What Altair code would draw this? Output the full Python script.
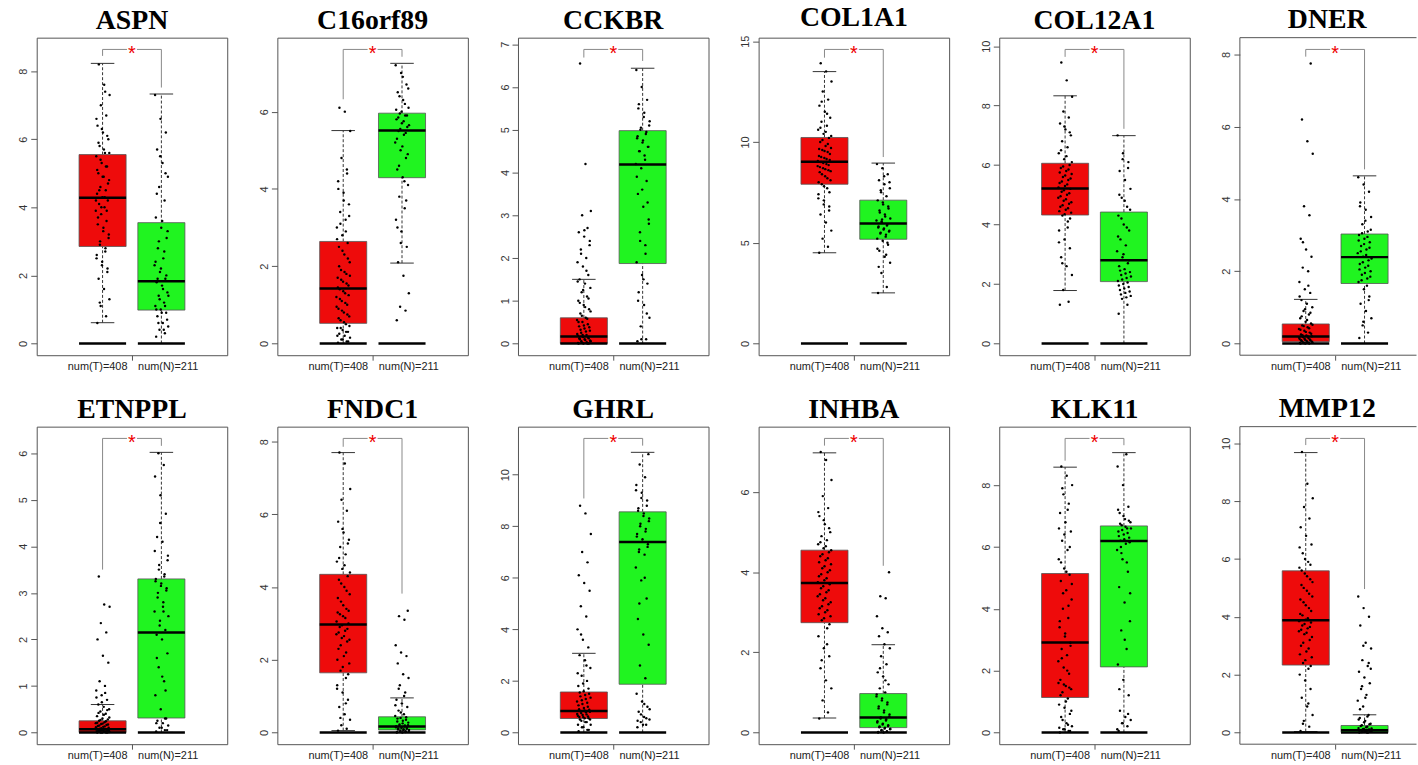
import altair as alt
import pandas as pd

GENES = ["ASPN", "C16orf89", "CCKBR", "COL1A1", "COL12A1", "DNER",
         "ETNPPL", "FNDC1", "GHRL", "INHBA", "KLK11", "MMP12"]
GROUPS = ["T", "N"]
GROUP_LABELS = ["num(T)=408", "num(N)=211"]
BOX_COLORS = ["#EE0B0B", "#20F420"]

# box statistics (lower whisker, Q1, median, Q3, upper whisker)
T_LO  = [0.61, 0.00, 0.00, 4.50, 1.78, 0.00, 0.00, 0.05, 0.00, 0.36, 0.00, 0.03]
T_Q1  = [2.85, 0.52, 0.00, 7.90, 4.32, 0.05, 0.00, 1.64, 0.54, 2.74, 1.13, 2.33]
T_MED = [4.28, 1.42, 0.16, 9.02, 5.21, 0.19, 0.07, 2.97, 0.83, 3.73, 2.91, 3.88]
T_Q3  = [5.55, 2.64, 0.60, 10.22, 6.06, 0.54, 0.25, 4.35, 1.57, 4.55, 5.14, 5.59]
T_HI  = [8.23, 5.51, 1.50, 13.49, 8.33, 1.22, 0.60, 7.70, 3.07, 6.98, 8.58, 9.68]
N_LO  = [0.00, 2.08, 0.00, 2.51, 0.00, 0.00, 0.00, 0.00, 0.00, 0.00, 0.00, 0.00]
N_Q1  = [0.98, 4.29, 1.87, 5.17, 2.08, 1.66, 0.31, 0.07, 1.87, 0.12, 2.12, 0.00]
N_MED = [1.83, 5.51, 4.19, 5.95, 2.80, 2.39, 2.15, 0.16, 7.39, 0.37, 6.19, 0.08]
N_Q3  = [3.55, 5.96, 4.98, 7.11, 4.42, 3.03, 3.30, 0.43, 8.56, 0.97, 6.68, 0.24]
N_HI  = [7.33, 7.25, 6.44, 8.95, 6.99, 4.64, 6.02, 0.95, 10.87, 2.19, 9.05, 0.61]

# significance bracket (top, left foot, right foot)
BR_TOP   = [8.64, 7.61, 6.88, 14.59, 9.89, 8.14, 6.32, 8.09, 11.41, 7.34, 9.51, 10.17]
BR_LEFT  = [8.45, 6.32, 6.69, 14.18, 9.64, 7.94, 3.50, 7.86, 9.08, 7.16, 8.79, 9.94]
BR_RIGHT = [7.52, 7.42, 6.61, 9.25, 7.22, 4.82, 6.16, 3.82, 11.13, 4.16, 9.29, 4.96]

Y_TICKS = [[0, 2, 4, 6, 8], [0, 2, 4, 6], [0, 1, 2, 3, 4, 5, 6, 7], [0, 5, 10, 15],
           [0, 2, 4, 6, 8, 10], [0, 2, 4, 6, 8], [0, 1, 2, 3, 4, 5, 6], [0, 2, 4, 6, 8],
           [0, 2, 4, 6, 8, 10], [0, 2, 4, 6], [0, 2, 4, 6, 8], [0, 2, 4, 6, 8, 10]]

# estimated sample points (a readable subset of the jittered dots)
ASPN_T = [0.6, 0.8, 1.1, 1.3, 1.6, 1.9, 2.1, 2.3, 2.5, 2.7, 2.9, 3.1, 3.3, 3.5, 3.6, 3.8, 3.9, 4.0, 4.1, 4.2,
          4.3, 4.4, 4.5, 4.6, 4.8, 4.9, 5.0, 5.2, 5.3, 5.5, 5.6, 5.8, 6.0, 6.2, 6.4, 6.7, 7.0, 7.3, 7.6, 8.2,
          2.2, 2.4, 2.6, 2.8, 3.0, 3.2, 3.4, 3.7, 3.9, 4.0, 4.2, 4.3, 4.5, 4.7, 4.9, 5.1, 5.2, 5.4, 5.6, 5.7,
          5.9, 6.1, 6.3, 6.6, 7.4, 1.2]
ASPN_N = [0.2, 0.3, 0.4, 0.5, 0.6, 0.8, 0.9, 1.0, 1.1, 1.2, 1.4, 1.5, 1.7, 1.8, 1.9, 2.1, 2.3, 2.5, 2.8, 3.1,
          3.4, 3.7, 4.2, 4.6, 4.9, 5.3, 5.7, 6.2, 6.6, 7.3,
          0.4, 0.6, 0.7, 0.9, 1.0, 1.1, 1.3, 1.4, 1.6, 1.9, 2.0, 2.2, 2.4, 2.7, 3.0, 3.3, 3.6, 4.4, 5.0, 5.5]
C16_T = [0.02, 0.05, 0.1, 0.15, 0.2, 0.25, 0.3, 0.35, 0.4, 0.5, 0.6, 0.7, 0.8, 0.9, 1.0, 1.1, 1.2, 1.3, 1.4,
         1.5, 1.6, 1.7, 1.8, 1.9, 2.1, 2.3, 2.5, 2.6, 2.8, 3.0, 3.2, 3.4, 3.6, 3.9, 4.2, 4.5, 4.8, 5.5, 6.0, 6.1,
         0.05, 0.1, 0.2, 0.3, 0.4, 0.45, 0.55, 0.65, 0.75, 0.85, 0.95, 1.05, 1.15, 1.25, 1.35, 1.45, 1.55,
         1.65, 1.75, 1.85, 2.0, 2.2, 2.4, 2.7, 2.9, 3.1, 3.3, 3.7, 4.0, 4.4]
C16_N = [0.6, 0.85, 0.95, 1.3, 1.75, 2.1, 2.5, 2.9, 3.2, 3.5, 3.8, 4.1, 4.3, 4.5, 4.8, 5.0, 5.2, 5.4, 5.5,
         5.6, 5.7, 5.8, 5.9, 5.95, 6.1, 6.3, 6.5, 6.7, 7.0, 7.2,
         4.2, 4.6, 4.9, 5.1, 5.3, 5.45, 5.55, 5.65, 5.75, 5.85, 5.9, 6.0, 6.05, 6.2, 6.4, 6.6, 6.9, 3.0, 3.7, 2.6]
CCKBR_T = [0.0, 0.0, 0.02, 0.05, 0.08, 0.1, 0.12, 0.15, 0.18, 0.2, 0.25, 0.3, 0.35, 0.4, 0.45, 0.5, 0.55, 0.6,
           0.7, 0.8, 0.9, 1.0, 1.1, 1.2, 1.3, 1.4, 1.5, 1.6, 1.8, 1.9, 2.0, 2.2, 2.3, 2.5, 2.6, 2.7, 3.0, 3.1,
           4.2, 6.55,
           0.0, 0.0, 0.01, 0.03, 0.05, 0.07, 0.1, 0.12, 0.15, 0.2, 0.22, 0.28, 0.32, 0.38, 0.42, 0.5, 0.58,
           0.65, 0.75, 0.85, 0.95, 1.05, 1.25, 1.45, 1.7, 2.1, 2.4, 2.65]
CCKBR_N = [0.05, 0.1, 0.4, 0.6, 0.9, 1.2, 1.4, 1.6, 1.9, 2.3, 2.6, 2.9, 3.2, 3.5, 3.8, 4.1, 4.2, 4.4, 4.5,
           4.6, 4.7, 4.8, 4.9, 5.0, 5.1, 5.3, 5.5, 5.7, 6.0, 6.4,
           4.3, 4.5, 4.6, 4.75, 4.85, 4.95, 5.05, 5.2, 5.4, 5.6, 3.3, 3.6, 3.9, 2.1, 2.4, 2.8, 1.5, 1.0, 0.7, 0.1]
COL1A1_T = [4.5, 4.8, 5.2, 5.6, 6.0, 6.4, 6.8, 7.1, 7.4, 7.7, 7.9, 8.1, 8.3, 8.5, 8.6, 8.7, 8.8, 8.9, 9.0,
            9.1, 9.2, 9.3, 9.5, 9.6, 9.7, 9.8, 10.0, 10.2, 10.4, 10.6, 10.8, 11.0, 11.2, 11.5, 11.8, 12.1,
            12.5, 13.0, 13.5, 13.9,
            7.5, 7.8, 8.0, 8.2, 8.4, 8.55, 8.65, 8.75, 8.85, 8.95, 9.05, 9.15, 9.25, 9.4, 9.55, 9.65, 9.9,
            10.1, 10.3, 10.5, 10.7, 6.6, 6.9, 7.2, 11.4, 12.0]
COL1A1_N = [2.5, 2.8, 3.5, 4.0, 4.3, 4.6, 4.9, 5.1, 5.2, 5.4, 5.5, 5.6, 5.7, 5.8, 5.9, 6.0, 6.1, 6.3, 6.5,
            6.7, 6.9, 7.1, 7.3, 7.5, 7.7, 7.9, 8.1, 8.4, 8.7, 8.9,
            5.3, 5.45, 5.55, 5.65, 5.75, 5.85, 6.05, 6.2, 6.4, 6.6, 6.8, 7.0, 4.7, 4.4, 7.6, 8.0, 8.3, 3.8,
            5.0, 6.15]
COL12A1_T = [1.3, 1.4, 1.8, 2.3, 2.6, 2.9, 3.2, 3.5, 3.8, 4.1, 4.3, 4.4, 4.5, 4.6, 4.7, 4.8, 4.9, 5.0, 5.1,
             5.2, 5.3, 5.4, 5.5, 5.6, 5.7, 5.8, 5.9, 6.0, 6.2, 6.4, 6.6, 6.8, 7.0, 7.2, 7.4, 7.6, 7.8, 8.3,
             8.85, 9.45,
             4.2, 4.35, 4.45, 4.55, 4.65, 4.75, 4.85, 4.95, 5.05, 5.15, 5.25, 5.35, 5.45, 5.55, 5.65, 5.75,
             5.85, 5.95, 6.1, 6.3, 6.5, 7.1, 7.3, 3.4, 3.9, 2.7]
COL12A1_N = [1.0, 1.3, 1.5, 1.6, 1.7, 1.8, 1.9, 2.0, 2.1, 2.2, 2.3, 2.4, 2.5, 2.6, 2.7, 2.9, 3.1, 3.3, 3.5,
             3.8, 4.0, 4.3, 4.6, 4.9, 5.2, 5.5, 5.8, 6.1, 6.4, 7.0,
             1.55, 1.65, 1.75, 1.85, 1.95, 2.05, 2.15, 2.25, 2.35, 2.45, 2.8, 3.0, 3.6, 3.9, 4.2, 4.5, 4.8,
             5.0, 5.9, 6.2]
DNER_T = [0.0, 0.0, 0.01, 0.02, 0.04, 0.06, 0.08, 0.1, 0.12, 0.15, 0.18, 0.2, 0.22, 0.25, 0.3, 0.35, 0.4,
          0.45, 0.5, 0.55, 0.6, 0.7, 0.8, 0.9, 1.0, 1.1, 1.2, 1.4, 1.5, 1.7, 2.0, 2.1, 2.4, 2.6, 2.9, 3.55,
          3.8, 5.25, 5.6, 6.2, 7.75,
          0.0, 0.01, 0.02, 0.03, 0.05, 0.07, 0.09, 0.11, 0.13, 0.16, 0.19, 0.23, 0.27, 0.32, 0.38, 0.42,
          0.48, 0.52, 0.65, 0.75, 0.85, 0.95, 1.3, 1.6, 2.8]
DNER_N = [0.15, 0.3, 0.5, 0.7, 0.9, 1.1, 1.3, 1.5, 1.7, 1.8, 1.9, 2.0, 2.1, 2.2, 2.3, 2.4, 2.5, 2.6, 2.7,
          2.8, 2.9, 3.0, 3.1, 3.3, 3.5, 3.7, 3.9, 4.2, 4.4, 4.6,
          1.6, 1.75, 1.85, 1.95, 2.05, 2.15, 2.25, 2.35, 2.45, 2.55, 2.65, 2.75, 2.85, 2.95, 3.05, 3.15, 3.4,
          3.8, 1.2, 0.6]
ETNPPL_T = [0.0, 0.0, 0.0, 0.01, 0.02, 0.03, 0.04, 0.05, 0.06, 0.07, 0.08, 0.1, 0.12, 0.14, 0.16, 0.18, 0.2,
            0.22, 0.25, 0.28, 0.3, 0.35, 0.4, 0.45, 0.5, 0.55, 0.6, 0.7, 0.8, 0.9, 1.0, 1.1, 1.5, 1.65, 2.0,
            2.15, 2.35, 2.7, 2.75, 3.35,
            0.0, 0.0, 0.01, 0.02, 0.03, 0.04, 0.05, 0.06, 0.07, 0.09, 0.11, 0.13, 0.15, 0.17, 0.19, 0.21,
            0.24, 0.27, 0.32, 0.38, 0.42, 0.48, 0.65, 0.75, 0.85]
ETNPPL_N = [0.02, 0.05, 0.1, 0.15, 0.2, 0.25, 0.3, 0.5, 0.8, 1.1, 1.4, 1.7, 2.0, 2.1, 2.2, 2.4, 2.6, 2.8,
            3.0, 3.1, 3.2, 3.3, 3.4, 3.6, 3.8, 4.1, 4.2, 4.7, 5.1, 5.5, 5.75, 6.0,
            0.05, 0.1, 0.2, 0.3, 2.3, 2.5, 2.7, 2.9, 3.05, 3.15, 3.25, 3.35, 3.5, 3.7, 1.2, 1.6, 0.9, 4.5,
            3.9, 2.6]
FNDC1_T = [0.05, 0.1, 0.2, 0.35, 0.5, 0.7, 0.9, 1.1, 1.3, 1.5, 1.7, 1.9, 2.1, 2.3, 2.5, 2.6, 2.7, 2.8, 2.9,
           3.0, 3.2, 3.3, 3.4, 3.6, 3.8, 4.0, 4.2, 4.3, 4.5, 4.7, 4.9, 5.1, 5.3, 5.5, 5.8, 6.1, 6.4, 6.7,
           7.4, 7.7,
           1.6, 1.8, 2.0, 2.2, 2.4, 2.55, 2.65, 2.75, 2.85, 2.95, 3.05, 3.15, 3.25, 3.35, 3.5, 3.7, 3.9,
           4.1, 4.4, 4.6, 4.8, 5.2, 5.6, 1.2, 0.8, 0.4]
FNDC1_N = [0.0, 0.01, 0.02, 0.04, 0.06, 0.08, 0.1, 0.12, 0.14, 0.16, 0.18, 0.2, 0.25, 0.3, 0.35, 0.4, 0.45,
           0.5, 0.6, 0.7, 0.8, 0.9, 1.1, 1.3, 1.5, 1.6, 1.9, 2.1, 2.2, 2.4, 3.1, 3.2, 3.35,
           0.0, 0.01, 0.03, 0.05, 0.07, 0.09, 0.11, 0.13, 0.15, 0.17, 0.19, 0.22, 0.27, 0.32, 0.38, 0.42,
           0.55, 0.75, 1.0, 1.2]
GHRL_T = [0.05, 0.1, 0.2, 0.3, 0.4, 0.5, 0.55, 0.6, 0.65, 0.7, 0.75, 0.8, 0.85, 0.9, 1.0, 1.1, 1.2, 1.3,
          1.4, 1.5, 1.6, 1.8, 2.0, 2.2, 2.5, 2.8, 3.0, 3.3, 3.6, 4.0, 4.5, 4.9, 5.5, 5.8, 6.1, 6.6, 7.0, 7.7,
          8.5, 8.8,
          0.1, 0.2, 0.3, 0.4, 0.45, 0.5, 0.55, 0.6, 0.62, 0.68, 0.72, 0.78, 0.82, 0.88, 0.95, 1.05, 1.15,
          1.25, 1.35, 1.45, 1.55, 1.7, 1.9, 2.3, 2.6, 3.8]
GHRL_N = [0.2, 0.3, 0.4, 0.5, 0.6, 0.8, 1.0, 1.2, 1.5, 2.1, 2.6, 3.4, 3.8, 4.4, 5.2, 5.9, 6.4, 6.9, 7.1,
          7.3, 7.5, 7.7, 7.9, 8.1, 8.3, 8.5, 8.7, 9.0, 9.3, 9.6, 9.9, 10.4, 10.8,
          0.3, 0.45, 0.55, 0.7, 0.9, 1.1, 7.0, 7.2, 7.4, 7.6, 7.8, 8.0, 8.2, 8.4, 8.6, 8.8, 9.1, 9.4, 6.0,
          5.0]
INHBA_T = [0.35, 0.5, 0.8, 1.1, 1.3, 1.6, 1.9, 2.1, 2.4, 2.6, 2.8, 2.9, 3.0, 3.1, 3.2, 3.3, 3.4, 3.5, 3.6,
           3.7, 3.8, 3.9, 4.0, 4.1, 4.2, 4.3, 4.4, 4.5, 4.6, 4.7, 4.8, 4.9, 5.0, 5.2, 5.4, 5.6, 5.9, 6.3,
           6.8, 7.0,
           2.7, 2.85, 2.95, 3.05, 3.15, 3.25, 3.35, 3.45, 3.55, 3.65, 3.75, 3.85, 3.95, 4.05, 4.15, 4.25,
           4.35, 4.45, 4.55, 4.65, 4.75, 5.1, 5.3, 5.5, 2.2, 1.8]
INHBA_N = [0.0, 0.02, 0.05, 0.08, 0.1, 0.13, 0.16, 0.2, 0.25, 0.3, 0.35, 0.4, 0.5, 0.6, 0.7, 0.8, 0.9, 1.0,
           1.1, 1.2, 1.4, 1.5, 1.7, 1.9, 2.1, 2.2, 2.4, 2.5, 2.6, 2.9, 3.35, 3.4, 4.0,
           0.0, 0.01, 0.03, 0.06, 0.09, 0.12, 0.15, 0.18, 0.22, 0.28, 0.33, 0.38, 0.45, 0.55, 0.65, 0.75,
           0.85, 0.95, 1.3, 1.6]
KLK11_T = [0.0, 0.05, 0.1, 0.2, 0.3, 0.5, 0.6, 0.8, 0.9, 1.1, 1.3, 1.4, 1.5, 1.7, 1.9, 2.1, 2.3, 2.5, 2.7,
           2.9, 3.1, 3.4, 3.7, 4.0, 4.3, 4.6, 4.9, 5.1, 5.3, 5.6, 5.9, 6.2, 6.5, 6.8, 7.1, 7.4, 7.7, 8.0,
           8.3, 8.6,
           0.05, 0.1, 0.15, 0.25, 0.4, 0.7, 1.0, 1.2, 1.45, 1.55, 1.6, 2.0, 2.4, 2.8, 3.2, 3.6, 4.1, 4.5,
           4.8, 5.2, 5.5, 6.0, 6.4, 6.6, 7.2, 7.9]
KLK11_N = [0.05, 0.2, 0.3, 0.4, 0.5, 0.7, 1.2, 1.7, 2.2, 2.7, 3.3, 3.6, 4.2, 4.7, 5.2, 5.6, 5.9, 6.1, 6.2,
           6.3, 6.4, 6.5, 6.6, 6.7, 6.8, 6.9, 7.1, 7.3, 8.0, 8.6, 9.0,
           6.0, 6.15, 6.25, 6.35, 6.45, 6.55, 6.6, 6.65, 6.75, 6.85, 7.0, 7.2, 5.5, 5.8, 4.5, 3.0, 1.4, 0.6,
           0.3, 0.1]
MMP12_T = [0.05, 0.2, 0.4, 0.6, 0.9, 1.2, 1.5, 1.8, 2.0, 2.2, 2.4, 2.6, 2.8, 3.0, 3.2, 3.4, 3.5, 3.6, 3.7,
           3.8, 3.9, 4.1, 4.3, 4.5, 4.7, 4.9, 5.1, 5.3, 5.5, 5.7, 5.9, 6.2, 6.5, 6.8, 7.1, 7.4, 7.8, 8.1,
           8.6, 9.7,
           2.3, 2.5, 2.7, 2.9, 3.1, 3.3, 3.45, 3.55, 3.65, 3.75, 3.85, 3.95, 4.05, 4.2, 4.4, 4.6, 4.8, 5.0,
           5.2, 5.4, 5.6, 5.8, 6.0, 6.4, 1.0, 0.3]
MMP12_N = [0.0, 0.0, 0.02, 0.04, 0.06, 0.08, 0.1, 0.12, 0.15, 0.2, 0.25, 0.3, 0.4, 0.5, 0.6, 0.9, 1.1, 1.3,
           1.5, 1.7, 1.9, 2.1, 2.3, 2.5, 2.9, 3.1, 3.7, 4.0, 4.3, 4.7,
           0.0, 0.01, 0.03, 0.05, 0.07, 0.09, 0.11, 0.14, 0.18, 0.22, 0.28, 0.35, 0.45, 0.55, 1.6, 2.2, 1.2,
           0.8, 2.4, 3.0]

POINTS = [(ASPN_T, ASPN_N), (C16_T, C16_N), (CCKBR_T, CCKBR_N), (COL1A1_T, COL1A1_N),
          (COL12A1_T, COL12A1_N), (DNER_T, DNER_N), (ETNPPL_T, ETNPPL_N), (FNDC1_T, FNDC1_N),
          (GHRL_T, GHRL_N), (INHBA_T, INHBA_N), (KLK11_T, KLK11_N), (MMP12_T, MMP12_N)]

FULL_W = 192
H = 320
FRAME = "#555555"
FONT = "Liberation Sans"
LAB_T, LAB_MID, LAB_N = 1.415, 1.5, 1.596


def panel(i, width, cut=False):
    gene = GENES[i]
    top = BR_TOP[i]
    ys = alt.Scale(domain=[-0.04 * top, 1.04 * top], nice=False, zero=False)
    xs = alt.Scale(domain=[-0.12, -0.12 + 3.24 * width / FULL_W], nice=False, zero=False)
    yaxis = alt.Axis(values=Y_TICKS[i], title=None, grid=False, domain=False, tickSize=6,
                     tickColor=FRAME, labelAngle=270, labelFont=FONT, labelFontSize=11,
                     labelColor="#333", labelPadding=2, labelOverlap=False)
    xaxis = alt.Axis(values=[LAB_T, LAB_MID, LAB_N], title=None, grid=False, domain=False, tickSize=5,
                     tickColor=FRAME,
                     tickOpacity={"condition": {"test": "datum.value == 1.5", "value": 1}, "value": 0},
                     labelAlign={"condition": {"test": "datum.value < 1.45", "value": "right"},
                                 "value": "left"},
                     labelExpr="datum.value < 1.45 ? '%s' : (datum.value > 1.55 ? '%s' : '')"
                               % tuple(GROUP_LABELS),
                     labelFont=FONT, labelFontSize=11, labelColor="#222", labelPadding=0,
                     labelOverlap=False, labelFlush=False, labelBound=False)

    def X(f):
        return alt.X(f"{f}:Q", scale=xs, axis=xaxis)

    def Y(f):
        return alt.Y(f"{f}:Q", scale=ys, axis=yaxis)

    stats = pd.DataFrame({
        "group": GROUPS, "pos": [1, 2],
        "lo": [T_LO[i], N_LO[i]], "q1": [T_Q1[i], N_Q1[i]], "med": [T_MED[i], N_MED[i]],
        "q3": [T_Q3[i], N_Q3[i]], "hi": [T_HI[i], N_HI[i]],
    })
    base = alt.Chart(stats).transform_calculate(
        xl="datum.pos - 0.4", xr="datum.pos + 0.4",
        cl="datum.pos - 0.2", cr="datum.pos + 0.2", zero="0")

    whisk_up = base.mark_rule(color="#333", strokeDash=[3, 2], strokeWidth=1).encode(
        x=X("pos"), y=Y("q3"), y2="hi")
    whisk_lo = base.mark_rule(color="#333", strokeDash=[3, 2], strokeWidth=1).encode(
        x=X("pos"), y=Y("lo"), y2="q1")
    cap_hi = base.mark_rule(color="#333", strokeWidth=1).encode(x=X("cl"), x2="cr", y=Y("hi"))
    cap_lo = base.mark_rule(color="#333", strokeWidth=1).encode(x=X("cl"), x2="cr", y=Y("lo"))
    box = base.mark_rect(stroke="#555", strokeWidth=0.8, opacity=1).encode(
        x=X("xl"), x2="xr", y=Y("q1"), y2="q3",
        color=alt.Color("group:N", scale=alt.Scale(domain=GROUPS, range=BOX_COLORS), legend=None))

    tv, nv = POINTS[i]
    pts = pd.DataFrame({
        "value": list(tv) + list(nv),
        "pos": [1] * len(tv) + [2] * len(nv),
        "k": list(range(len(tv))) + list(range(len(nv))),
    })
    points = alt.Chart(pts).transform_calculate(
        jx="datum.pos + (((datum.k * 0.6180339 + 0.13) % 1) - 0.5) * 0.24"
    ).mark_circle(size=6, color="black", opacity=1).encode(x=X("jx"), y=Y("value"))

    med = base.mark_rule(color="black", strokeWidth=2.5).encode(x=X("xl"), x2="xr", y=Y("med"))
    zero = base.mark_rule(color="black", strokeWidth=2.5).encode(x=X("xl"), x2="xr", y=Y("zero"))

    g = 0.085
    br = pd.DataFrame({
        "x": [1, 2, 1, 1.5 + g], "x2": [1, 2, 1.5 - g, 2],
        "y": [BR_LEFT[i], BR_RIGHT[i], top, top], "y2": [top, top, top, top],
    })
    bracket = alt.Chart(br).mark_rule(color="#888", strokeWidth=1).encode(
        x=X("x"), x2="x2", y=Y("y"), y2="y2")
    star = alt.Chart(pd.DataFrame({"x": [1.5], "y": [top], "t": ["*"]})).mark_text(
        color="#EE0000", fontSize=20, font=FONT, baseline="alphabetic", dy=11
    ).encode(x=X("x"), y=Y("y"), text="t:N")

    layers = [whisk_up, whisk_lo, cap_hi, cap_lo, box, points, med, zero, bracket, star]
    props = dict(width=width, height=H,
                 title=alt.TitleParams(gene, font="Liberation Serif", fontSize=28, fontWeight="bold",
                                       color="black", anchor="middle", frame="group", offset=3))
    if cut:
        one = alt.Chart(pd.DataFrame({"a": [0]}))
        f_top = one.mark_rule(color=FRAME).encode(x=alt.value(0), x2=alt.value(width + 2), y=alt.value(0))
        f_bot = one.mark_rule(color=FRAME).encode(x=alt.value(0), x2=alt.value(width + 2), y=alt.value(H))
        f_left = one.mark_rule(color=FRAME).encode(x=alt.value(0), y=alt.value(0), y2=alt.value(H))
        layers += [f_top, f_bot, f_left]
        props["view"] = alt.ViewBackground(stroke="transparent")
    return alt.layer(*layers).properties(**props)


LAST_W = 176
row1 = alt.hconcat(*[panel(i, FULL_W) for i in range(5)], panel(5, LAST_W, cut=True), spacing=29.5)
row2 = alt.hconcat(*[panel(i, FULL_W) for i in range(6, 11)], panel(11, LAST_W, cut=True), spacing=29.5)

chart = alt.vconcat(row1, row2, spacing=23).properties(
    padding={"left": 17, "top": 0, "right": 0, "bottom": 0},
    background="white",
).configure_view(stroke=FRAME, strokeWidth=1)

chart.save("out.html", embed_options={"renderer": "svg", "actions": False})
